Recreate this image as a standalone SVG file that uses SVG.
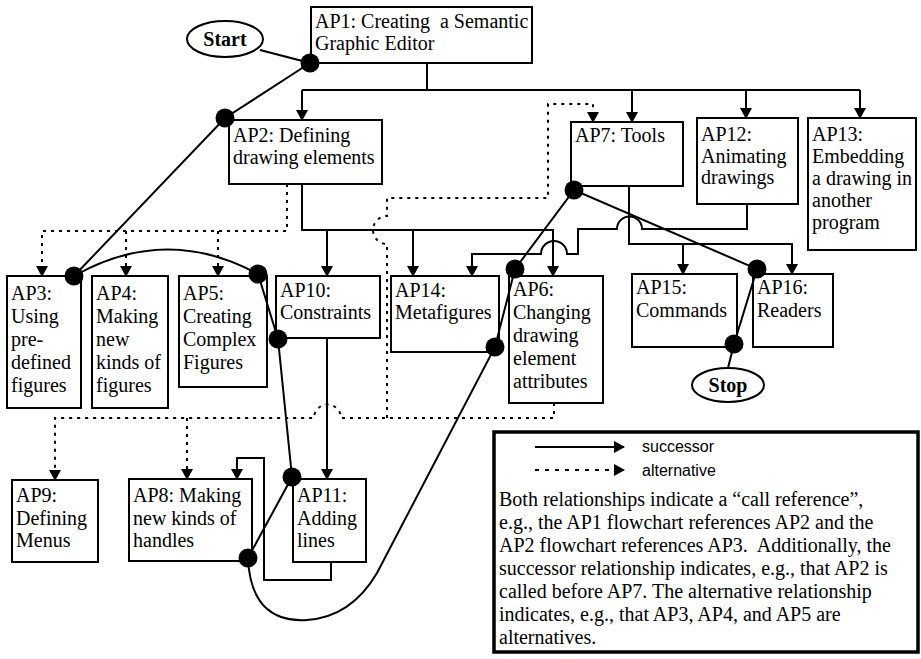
<svg xmlns="http://www.w3.org/2000/svg" width="921" height="659" viewBox="0 0 921 659">
<defs>
<marker id="ah" markerUnits="userSpaceOnUse" markerWidth="12" markerHeight="12" refX="10" refY="6" orient="auto"><path d="M0,0 L11,6 L0,12 z" fill="#000"/></marker>
<style>
.box{fill:#fff;stroke:#000;stroke-width:2}
.t{font-family:"Liberation Serif","Times New Roman",serif;font-size:20px;fill:#000;white-space:pre}
.c{fill:none;stroke:#000;stroke-width:2}
.d{fill:none;stroke:#000;stroke-width:2;stroke-dasharray:3 5}
.dot{fill:#000}
.ov{fill:#fff;stroke:#000;stroke-width:2}
.b{font-weight:bold;text-anchor:middle}
.s{font-family:"Liberation Sans",Arial,sans-serif;font-size:16px;fill:#000}
</style>
</defs>
<rect width="921" height="659" fill="#fff"/>

<g id="nodes">
<g id="start"><ellipse class="ov" cx="225" cy="39" rx="38" ry="18"/><text class="t b" x="225" y="46">Start</text></g>
<g id="stop"><ellipse class="ov" cx="728" cy="385" rx="36" ry="17"/><text class="t b" x="728" y="392">Stop</text></g>
<g id="ap1"><rect class="box" x="311" y="7" width="221" height="56"/><text class="t" x="315" y="28" xml:space="preserve">AP1: Creating  a Semantic</text><text class="t" x="315" y="50">Graphic Editor</text></g>
<g id="ap2"><rect class="box" x="229" y="120" width="153" height="64"/><text class="t" x="233" y="142">AP2: Defining</text><text class="t" x="233" y="164">drawing elements</text></g>
<g id="ap7"><rect class="box" x="571" y="122" width="112" height="64"/><text class="t" x="575" y="142">AP7: Tools</text></g>
<g id="ap12"><rect class="box" x="697" y="118" width="101" height="86"/><text class="t" x="701" y="141">AP12:</text><text class="t" x="701" y="163">Animating</text><text class="t" x="701" y="184">drawings</text></g>
<g id="ap13"><rect class="box" x="808" y="118" width="108" height="132"/><text class="t" x="812" y="141">AP13:</text><text class="t" x="812" y="163">Embedding</text><text class="t" x="812" y="185">a drawing in</text><text class="t" x="812" y="207">another</text><text class="t" x="812" y="229">program</text></g>
<g id="ap3"><rect class="box" x="7" y="276" width="74" height="132"/><text class="t" x="11" y="300">AP3:</text><text class="t" x="11" y="323">Using</text><text class="t" x="11" y="346">pre-</text><text class="t" x="11" y="369">defined</text><text class="t" x="11" y="392">figures</text></g>
<g id="ap4"><rect class="box" x="92" y="276" width="76" height="132"/><text class="t" x="96" y="300">AP4:</text><text class="t" x="96" y="323">Making</text><text class="t" x="96" y="346">new</text><text class="t" x="96" y="369">kinds of</text><text class="t" x="96" y="392">figures</text></g>
<g id="ap5"><rect class="box" x="179" y="276" width="88" height="111"/><text class="t" x="183" y="300">AP5:</text><text class="t" x="183" y="323">Creating</text><text class="t" x="183" y="346">Complex</text><text class="t" x="183" y="369">Figures</text></g>
<g id="ap10"><rect class="box" x="276" y="276" width="104" height="62"/><text class="t" x="280" y="297">AP10:</text><text class="t" x="280" y="319">Constraints</text></g>
<g id="ap14"><rect class="box" x="391" y="276" width="108" height="76"/><text class="t" x="395" y="297">AP14:</text><text class="t" x="395" y="319">Metafigures</text></g>
<g id="ap6"><rect class="box" x="509" y="276" width="94" height="127"/><text class="t" x="513" y="296">AP6:</text><text class="t" x="513" y="319">Changing</text><text class="t" x="513" y="342">drawing</text><text class="t" x="513" y="365">element</text><text class="t" x="513" y="388">attributes</text></g>
<g id="ap15"><rect class="box" x="632" y="274" width="105" height="73"/><text class="t" x="636" y="294">AP15:</text><text class="t" x="636" y="317">Commands</text></g>
<g id="ap16"><rect class="box" x="753" y="274" width="80" height="73"/><text class="t" x="757" y="294">AP16:</text><text class="t" x="757" y="317">Readers</text></g>
<g id="ap9"><rect class="box" x="12" y="480" width="86" height="82"/><text class="t" x="16" y="502">AP9:</text><text class="t" x="16" y="525">Defining</text><text class="t" x="16" y="547">Menus</text></g>
<g id="ap8"><rect class="box" x="129" y="479" width="123" height="82"/><text class="t" x="133" y="502">AP8: Making</text><text class="t" x="133" y="525">new kinds of</text><text class="t" x="133" y="547">handles</text></g>
<g id="ap11"><rect class="box" x="293" y="479" width="73" height="83"/><text class="t" x="297" y="502">AP11:</text><text class="t" x="297" y="525">Adding</text><text class="t" x="297" y="547">lines</text></g>
</g>

<g id="connectors">
<path class="c" d="M427,63 V90 M302,90 H860"/>
<path class="c" d="M302,90 V120" marker-end="url(#ah)"/>
<path class="c" d="M632,90 V122" marker-end="url(#ah)"/>
<path class="c" d="M746,90 V118" marker-end="url(#ah)"/>
<path class="c" d="M860,90 V118" marker-end="url(#ah)"/>
<path class="c" d="M302,184 V230 H553 V276" marker-end="url(#ah)"/>
<path class="c" d="M327,230 V276" marker-end="url(#ah)"/>
<path class="c" d="M413,230 V276" marker-end="url(#ah)"/>
<path class="c" d="M747,204 V229 H642 A12.5,12.5 0 0 0 617,229 H578 V254 H567 A13,13 0 0 0 541,254 H472 V276" marker-end="url(#ah)"/>
<path class="c" d="M629,186 V244 H792 V274" marker-end="url(#ah)"/>
<path class="c" d="M683,244 V274" marker-end="url(#ah)"/>
<path class="c" d="M327,338 V479" marker-end="url(#ah)"/>
<path class="c" d="M331,562 V580 H264 V458 H237 V479" marker-end="url(#ah)"/>
<path class="d" d="M287,184 V231 H42 V276" marker-end="url(#ah)"/>
<path class="d" d="M126,231 V276" marker-end="url(#ah)"/>
<path class="d" d="M218,231 V276" marker-end="url(#ah)"/>
<path class="d" d="M387,418 V244 A14,14 0 0 1 387,216 V198 H548 V104 H593 V122" marker-end="url(#ah)"/>
<path class="d" d="M554,403 V418 H341 A13.5,13.5 0 0 0 314,418 H55 V480" marker-end="url(#ah)"/>
<path class="d" d="M187,418 V479" marker-end="url(#ah)"/>
<path class="c" d="M260,50 L310,63 L225,118 L74,276 Q166,224 258,274 L278,339 L292,477 L248,558 C250,608 276,622 307,620 C336,618 360,602 377,573 L495,347 L515,269 L574,190 L757,269 L734,344 L728,368"/>
<circle class="dot" cx="310" cy="63" r="9.5"/>
<circle class="dot" cx="225" cy="118" r="9.5"/>
<circle class="dot" cx="74" cy="276" r="9.5"/>
<circle class="dot" cx="258" cy="274" r="9.5"/>
<circle class="dot" cx="278" cy="339" r="9.5"/>
<circle class="dot" cx="292" cy="477" r="9.5"/>
<circle class="dot" cx="248" cy="558" r="9.5"/>
<circle class="dot" cx="495" cy="347" r="9.5"/>
<circle class="dot" cx="515" cy="269" r="9.5"/>
<circle class="dot" cx="574" cy="190" r="9.5"/>
<circle class="dot" cx="757" cy="269" r="9.5"/>
<circle class="dot" cx="734" cy="344" r="9.5"/>
</g>

<g id="legend">
<rect x="494" y="432" width="424" height="220" fill="#fff" stroke="#000" stroke-width="3.5"/>
<path class="c" d="M535,447 H624" marker-end="url(#ah)"/>
<path class="c" d="M535,470 H624" style="stroke-dasharray:4 6" marker-end="url(#ah)"/>
<text class="s" x="642" y="452">successor</text>
<text class="s" x="642" y="476">alternative</text>
<text class="t" x="499" y="506">Both relationships indicate a “call reference”,</text>
<text class="t" x="499" y="529">e.g., the AP1 flowchart references AP2 and the</text>
<text class="t" x="499" y="552" xml:space="preserve">AP2 flowchart references AP3.  Additionally, the</text>
<text class="t" x="499" y="575">successor relationship indicates, e.g., that AP2 is</text>
<text class="t" x="499" y="598">called before AP7. The alternative relationship</text>
<text class="t" x="499" y="621">indicates, e.g., that AP3, AP4, and AP5 are</text>
<text class="t" x="499" y="644">alternatives.</text>
</g>
</svg>
